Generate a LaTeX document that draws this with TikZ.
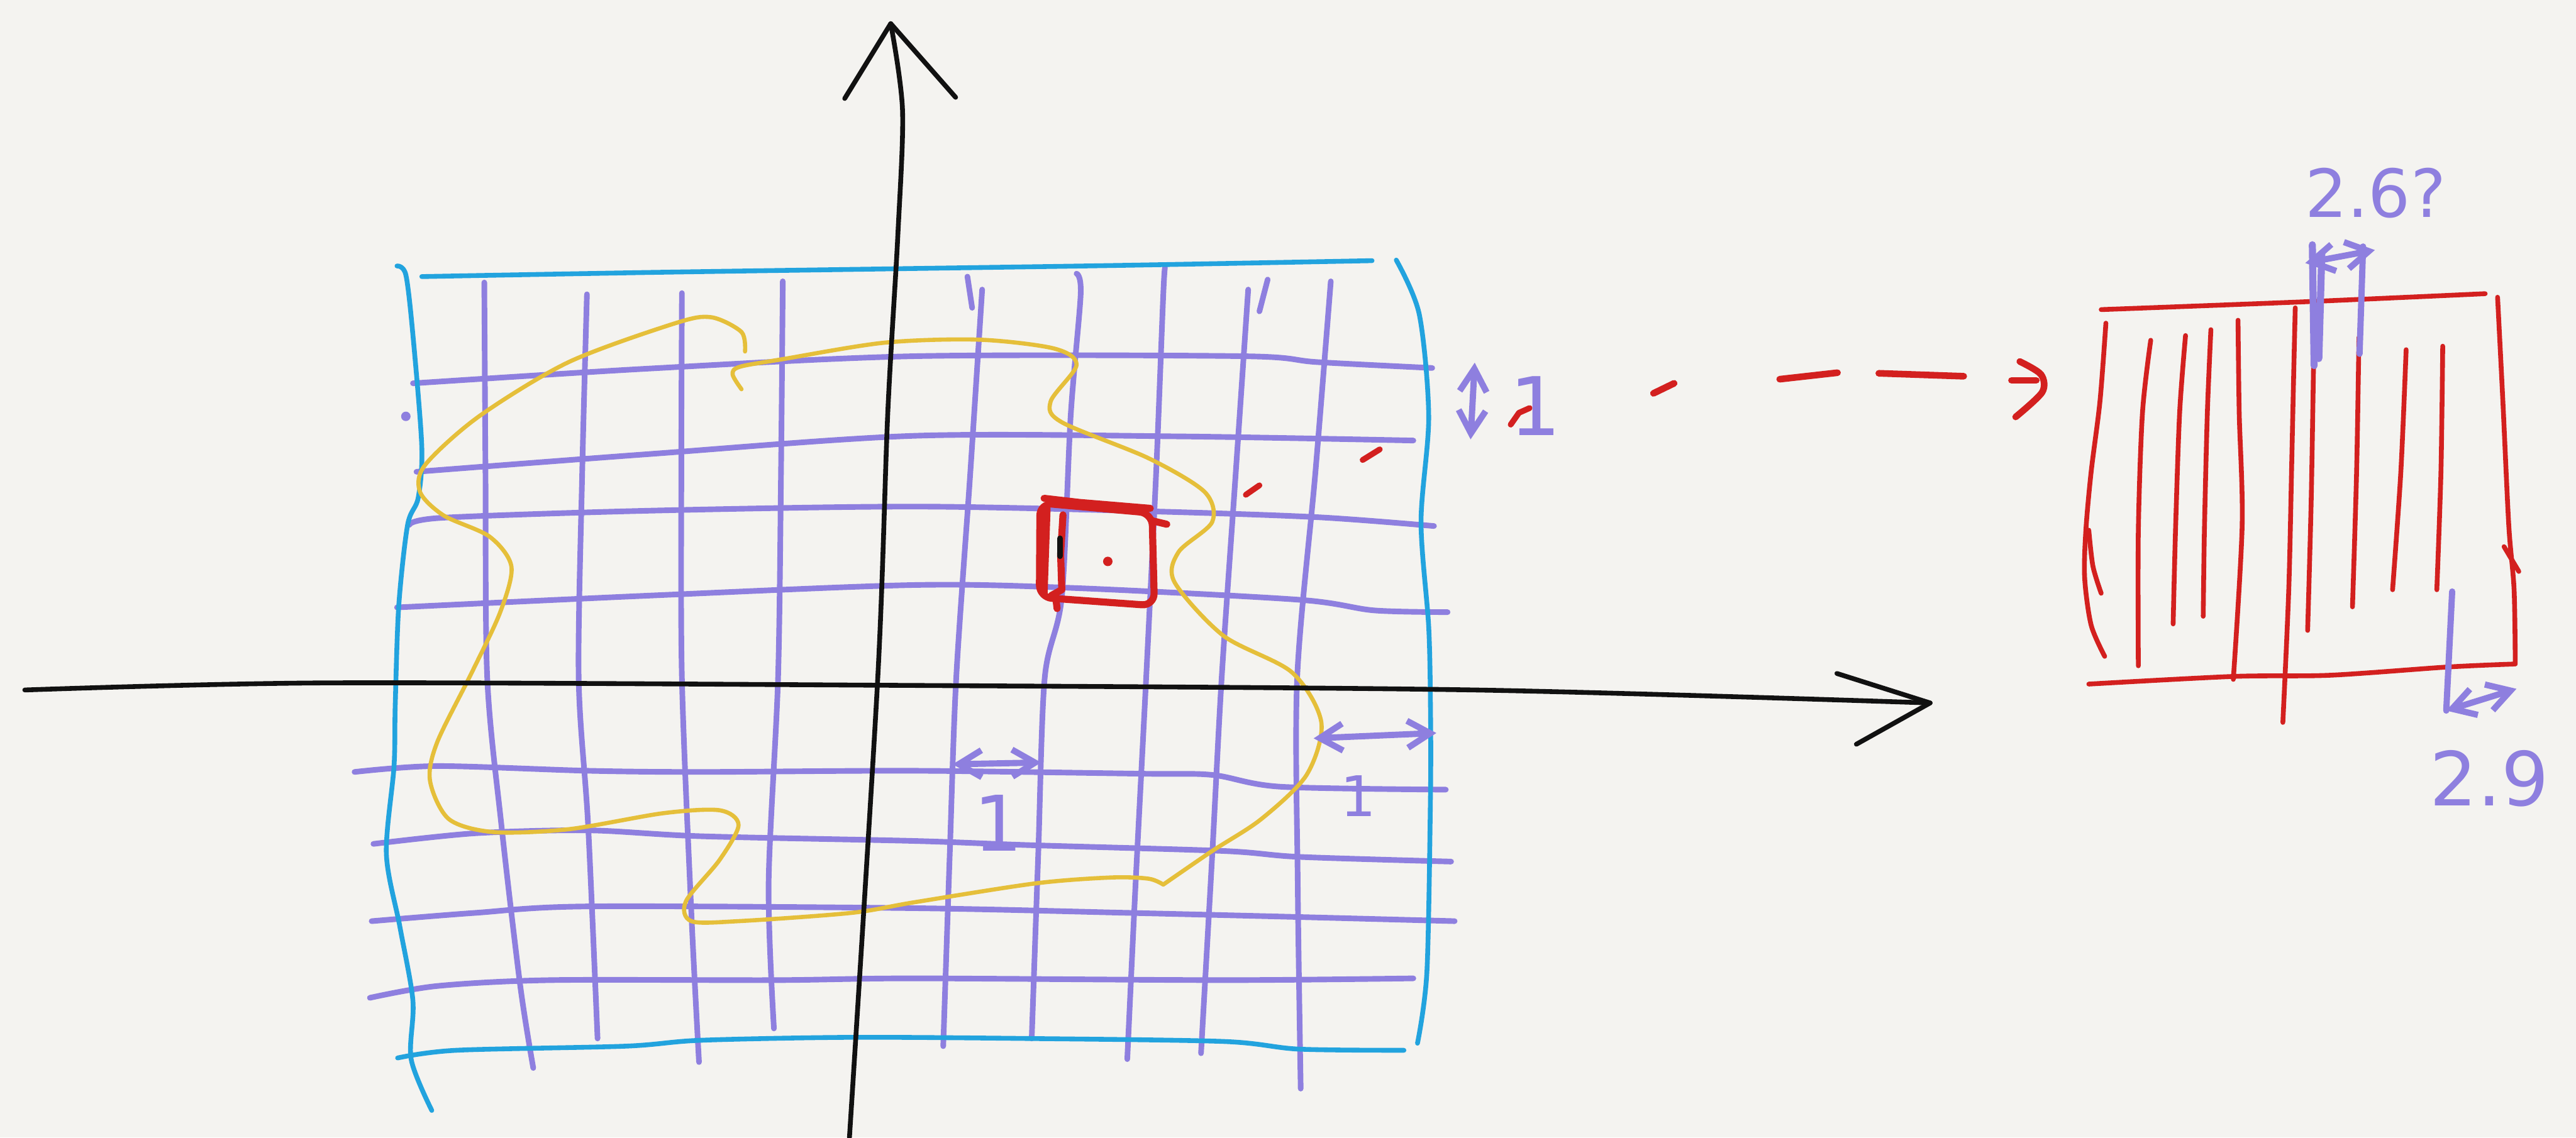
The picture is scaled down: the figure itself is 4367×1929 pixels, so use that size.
\documentclass[tikz,border=0pt]{standalone}
\usepackage{fontspec}
\usepackage{xcolor}
\usepackage{tikz}
\usetikzlibrary{arrows.meta, calc}

\newfontfamily\handfont{DejaVu Sans}

\definecolor{paper}{HTML}{F4F3F0}
\definecolor{inkblack}{HTML}{111111}
\definecolor{gridpurple}{HTML}{8E7FDF}
\definecolor{frameblue}{HTML}{22A3DE}
\definecolor{regionyellow}{HTML}{E5BF3A}
\definecolor{cellred}{HTML}{D3201F}

\begin{document}
\begin{tikzpicture}[
    x=0.01cm, y=-0.01cm,
    line cap=round, line join=round,
    % Define styles for the strokes
    axis_line/.style={draw=inkblack, line width=2.3pt},
    grid_line/.style={draw=gridpurple, line width=2.7pt},
    frame_line/.style={draw=frameblue, line width=2.3pt},
    region_line/.style={draw=regionyellow, line width=2pt},
    cell_line/.style={draw=cellred, line width=3.4pt},
    strip_line/.style={draw=cellred, line width=2.3pt},
    % Styles for the measurements
    dim_line/.style={draw=gridpurple, line width=3pt},
    dim_arrow/.style={dim_line, {Straight Barb[length=11pt,width=13pt]}-{Straight Barb[length=11pt,width=13pt]}},
    dim_label/.style={text=gridpurple, font=\handfont, inner sep=0pt}
]
    \fill[paper] (0,0) rectangle (4367,1929);
    \useasboundingbox (0,0) rectangle (4367,1929);

    % =========================================================================
    % PURPLE GRID (Vertical, then Horizontal)
    % =========================================================================
    \draw[grid_line] plot[smooth, tension=0.5] coordinates {(821,479) (823,800) (826,1150) (850,1399) (882,1672) (904,1811)};
    \draw[grid_line] plot[smooth, tension=0.5] coordinates {(995,499) (987,800) (981,1150) (997,1399) (1013,1761)};
    \draw[grid_line] plot[smooth, tension=0.5] coordinates {(1156,497) (1155,800) (1156,1150) (1172,1548) (1185,1801)};
    \draw[grid_line] plot[smooth, tension=0.5] coordinates {(1327,477) (1324,800) (1319,1150) (1303,1498) (1312,1744)};
    \draw[grid_line] plot[smooth, tension=0.5] coordinates {(1665,491) (1645,800) (1621,1150) (1610,1450) (1599,1774)};
    \draw[grid_line] plot[smooth, tension=0.5] coordinates {(1825,464) (1832,499) (1815,706) (1800,1012) (1771,1150) (1760,1450) (1749,1761)};
    \draw[grid_line] plot[smooth, tension=0.5] coordinates {(1975,454) (1972,500) (1960,800) (1943,1150) (1925,1500) (1911,1796)};
    \draw[grid_line] plot[smooth, tension=0.5] coordinates {(2116,491) (2095,800) (2071,1150) (2055,1450) (2036,1786)};
    \draw[grid_line] plot[smooth, tension=0.5] coordinates {(2256,477) (2230,800) (2199,1150) (2200,1500) (2205,1846)};
    % small ticks on top of the columns
    \draw[grid_line] (1640,469) -- (1648,522);
    \draw[grid_line] (2149,474) -- (2135,528);

    \draw[grid_line] plot[smooth, tension=0.5] coordinates {(700,650) (1100,625) (1550,604) (2106,604) (2233,614) (2428,624)};
    \draw[grid_line] plot[smooth, tension=0.5] coordinates {(706,800) (1100,770) (1550,739) (2000,740) (2396,747)};
    \draw[grid_line] plot[smooth, tension=0.5] coordinates {(694,890) (750,878) (1100,866) (1550,859) (1946,867) (2233,877) (2431,892)};
    \draw[grid_line] plot[smooth, tension=0.5] coordinates {(673,1030) (1100,1010) (1550,992) (1819,997) (2202,1017) (2329,1035) (2454,1038)};
    \draw[grid_line] plot[smooth, tension=0.5] coordinates {(601,1309) (741,1299) (997,1307) (1188,1309) (1550,1307) (1934,1312) (2055,1314) (2170,1334) (2451,1339)};
    \draw[grid_line] plot[smooth, tension=0.5] coordinates {(633,1431) (805,1413) (997,1408) (1188,1418) (1550,1426) (1742,1433) (2074,1443) (2202,1453) (2460,1461)};
    \draw[grid_line] plot[smooth, tension=0.5] coordinates {(630,1562) (805,1548) (997,1537) (1550,1540) (1915,1548) (2202,1555) (2466,1562)};
    \draw[grid_line] plot[smooth, tension=0.5] coordinates {(627,1692) (741,1672) (933,1662) (1316,1662) (1550,1659) (2074,1662) (2396,1659)};
    \fill[gridpurple] (688,706) circle (8);

    % =========================================================================
    % BLUE FRAME
    % =========================================================================
    \draw[frame_line] plot[smooth, tension=0.5] coordinates {(715,469) (1100,462) (1500,456) (1900,450) (2326,442)};
    \draw[frame_line] plot[smooth, tension=0.5] coordinates {(673,451) (688,466) (700,568) (715,757) (709,844) (691,890) (676,1027) (670,1196) (668,1299) (655,1448) (678,1572) (700,1697) (697,1796) (732,1883)};
    \draw[frame_line] plot[smooth, tension=0.5] coordinates {(2367,441) (2406,533) (2422,706) (2409,885) (2422,1063) (2425,1200) (2425,1349) (2419,1647) (2403,1769)};
    \draw[frame_line] plot[smooth, tension=0.5] coordinates {(674,1794) (773,1781) (1060,1774) (1188,1764) (1443,1759) (1742,1761) (2074,1766) (2202,1779) (2380,1781)};

    % =========================================================================
    % YELLOW REGION
    % =========================================================================
    \draw[region_line] plot[smooth] coordinates {(1263,596) (1257,563) (1206,538) (1145,548) (964,614) (812,706) (721,788) (712,834) (752,874) (830,910) (867,961) (848,1038) (800,1140) (741,1259) (729,1324) (761,1389) (837,1411) (965,1406) (1124,1379) (1220,1374) (1252,1399) (1220,1458) (1163,1528) (1172,1562) (1252,1562) (1443,1548) (1550,1530) (1755,1498) (1883,1488) (1947,1490) (1972,1500)}
        plot[smooth] coordinates {(1972,1500) (2055,1443) (2138,1389) (2215,1314) (2240,1225) (2190,1140) (2074,1078) (1991,987) (1998,936) (2055,885) (2042,834) (1947,777) (1800,716) (1781,681) (1825,619) (1787,591) (1660,576) (1500,581) (1327,609) (1254,622) (1242,635) (1257,660)};

    % =========================================================================
    % AXES
    % =========================================================================
    \coordinate (x_tip) at (3272,1192);
    \coordinate (y_tip) at (1510,40);
    \draw[axis_line] plot[smooth, tension=0.5] coordinates {(42,1170) (550,1158) (1500,1162) (2500,1170) (3272,1192)};
    \draw[axis_line] (x_tip) ++(-158,-50) -- (x_tip) -- ++(-125,70);
    \draw[axis_line] plot[smooth, tension=0.5] coordinates {(1440,1929) (1488,1150) (1505,700) (1522,400) (1530,187) (1510,40)};
    \draw[axis_line] (y_tip) ++(-78,127) -- (y_tip) -- ++(110,125);

    % =========================================================================
    % RED CELL AND THE ZOOM ARROW
    % =========================================================================
    \draw[cell_line, rounded corners=6] (1763,853) -- (1953,870) -- (1957,1027) -- (1762,1013) -- cycle;
    \draw[cell_line] (1770,845) -- (1830,852) -- (1950,862);
    \draw[cell_line] (1775,862) -- (1770,1005);
    \draw[cell_line] (1802,873) -- (1798,940) -- (1800,1000) -- (1782,1010);
    \draw[cell_line] (1790,1015) -- (1792,1032);
    \draw[cell_line] (1953,883) -- (1978,889);
    \draw[inkblack, line width=2.8pt] (1797,913) -- (1797,943);
    \fill[cellred] (1878,952) circle (8);

    \draw[cell_line, line width=2.8pt] (2112,839) -- (2135,823);
    \draw[cell_line, line width=2.8pt] (2310,780) -- (2339,762);
    \draw[cell_line, line width=2.8pt] (2561,720) -- (2575,700) -- (2593,692);
    \draw[cell_line, line width=3.2pt] (2803,667) -- (2838,650);
    \draw[cell_line, line width=3.2pt] (3017,643) -- (3115,632);
    \draw[cell_line, line width=3.2pt] (3185,633) -- (3329,638);
    \draw[cell_line, line width=3.2pt] (3410,645) -- (3452,645);
    \draw[cell_line, line width=3.2pt] plot[smooth] coordinates {(3424,613) (3460,635) (3462,665) (3417,707)};

    % =========================================================================
    % ZOOMED CELL (right)
    % =========================================================================
    \draw[strip_line] plot[smooth, tension=0.5] coordinates {(3562,525) (3900,512) (4213,498)};
    \draw[strip_line] plot[smooth, tension=0.5] coordinates {(3570,548) (3560,680) (3545,800) (3536,900) (3534,980) (3545,1060) (3568,1113)};
    \draw[strip_line] plot[smooth, tension=0.5] coordinates {(3541,899) (3548,960) (3562,1006)};
    \draw[strip_line] plot[smooth, tension=0.5] coordinates {(3541,1160) (3787,1147) (3950,1145) (4150,1131) (4262,1126)};
    \draw[strip_line] plot[smooth, tension=0.5] coordinates {(4234,504) (4243,681) (4253,891) (4262,1000) (4264,1126)};
    \draw[strip_line] (4245,927) -- (4270,969);
    \draw[strip_line] plot[smooth, tension=0.5] coordinates {(3646,577) (3632,700) (3625,900) (3625,1129)};
    \draw[strip_line] plot[smooth, tension=0.5] coordinates {(3705,569) (3695,700) (3688,900) (3684,1058)};
    \draw[strip_line] plot[smooth, tension=0.5] coordinates {(3748,559) (3742,700) (3737,900) (3735,1045)};
    \draw[strip_line] plot[smooth, tension=0.5] coordinates {(3794,543) (3796,700) (3801,891) (3786,1152)};
    \draw[strip_line] plot[smooth, tension=0.5] coordinates {(3891,522) (3888,650) (3885,786) (3880,1000) (3870,1225)};
    \draw[strip_line] plot[smooth, tension=0.5] coordinates {(3922,619) (3918,850) (3912,1069)};
    \draw[strip_line] plot[smooth, tension=0.5] coordinates {(3999,572) (3995,800) (3988,1029)};
    \draw[strip_line] plot[smooth, tension=0.5] coordinates {(4079,593) (4070,800) (4056,1000)};
    \draw[strip_line] plot[smooth, tension=0.5] coordinates {(4141,587) (4138,800) (4131,1000)};

    % =========================================================================
    % MEASUREMENTS
    % =========================================================================
    \coordinate (w_left_a) at (1615,1296);
    \coordinate (w_left_b) at (1765,1293);
    \draw[dim_arrow] (w_left_a) -- (w_left_b);
    \node[dim_label, font=\handfont\fontsize{37}{40}\selectfont] (w_left_lbl) at (1692,1396) {1};

    \coordinate (w_right_a) at (2227,1252);
    \coordinate (w_right_b) at (2435,1243);
    \draw[dim_arrow] (w_right_a) -- (w_right_b);
    \node[dim_label, font=\handfont\fontsize{27}{30}\selectfont] (w_right_lbl) at (2303,1350) {1};

    \coordinate (h_a) at (2500,615);
    \coordinate (h_b) at (2493,745);
    \draw[dim_arrow] (h_a) -- (h_b);
    \node[dim_label, font=\handfont\fontsize{39}{42}\selectfont] (h_lbl) at (2603,688) {1};

    % strip width at the top of the zoomed cell
    \draw[dim_line, line width=3.4pt] (3920,415) -- (3923,620);
    \draw[dim_line, line width=3.4pt] (3936,430) -- (3931,608);
    \draw[dim_line] (4006,418) -- (4000,600);
    \coordinate (top_a) at (3908,446);
    \coordinate (top_b) at (4026,424);
    \draw[dim_arrow] (top_a) -- (top_b);
    \node[dim_label, font=\handfont\fontsize{32}{36}\selectfont] (top_lbl) at (4027,327) {2.6?};

    % strip width at the bottom right
    \coordinate (bot_a) at (4147,1205);
    \coordinate (bot_b) at (4266,1168);
    \draw[dim_line] (4157,1003) -- (bot_a);
    \draw[dim_arrow] (bot_a) -- (bot_b);
    \node[dim_label, font=\handfont\fontsize{36}{40}\selectfont] (bot_lbl) at (4220,1320) {2.9};

\end{tikzpicture}
\end{document}
